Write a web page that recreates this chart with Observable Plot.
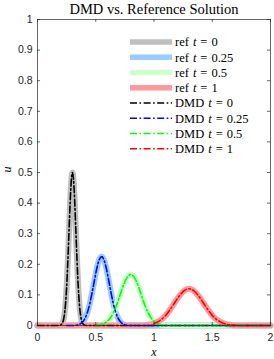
<!DOCTYPE html>
<html><head><meta charset="utf-8">
<script src="https://cdn.jsdelivr.net/npm/d3@7"></script>
<script src="https://cdn.jsdelivr.net/npm/@observablehq/plot@0.6"></script>
<style>
html,body{margin:0;padding:0;background:#fff;}
</style>
</head><body><div id="chart"></div>
<script>
// ---- data ----
const seriesNames = ["t0", "t025", "t05", "t1"];
const timeLabels = ["0", "0.25", "0.5", "1"];
const dmdStart = [0, 0.25, 0.5, 1.0];

const x0 = [0, 0.18, 0.20, 0.21, 0.22, 0.23, 0.24, 0.25, 0.26, 0.27, 0.28, 0.29, 0.30, 0.31, 0.32, 0.33, 0.34, 0.35, 0.36, 0.37, 0.38, 0.39, 0.40, 0.42, 2];
const u0 = [0, 0, 0.002, 0.0056, 0.014, 0.033, 0.068, 0.125, 0.206, 0.303, 0.400, 0.473, 0.5, 0.473, 0.400, 0.303, 0.206, 0.125, 0.068, 0.033, 0.014, 0.0056, 0.002, 0, 0];

const x025 = [0, 0.25, 0.31, 0.35, 0.37, 0.39, 0.41, 0.43, 0.45, 0.47, 0.49, 0.51, 0.53, 0.55, 0.57, 0.59, 0.61, 0.63, 0.65, 0.67, 0.69, 0.71, 0.73, 0.75, 0.79, 2];
const u025 = [0, 0, 0, 0.0025, 0.0059, 0.0127, 0.025, 0.045, 0.073, 0.110, 0.150, 0.188, 0.215, 0.225, 0.215, 0.188, 0.150, 0.110, 0.073, 0.045, 0.025, 0.0127, 0.0059, 0.0025, 0, 0];

const x05 = [0, 0.50, 0.53, 0.56, 0.59, 0.62, 0.65, 0.68, 0.71, 0.74, 0.77, 0.80, 0.83, 0.86, 0.89, 0.92, 0.95, 0.98, 1.01, 1.04, 1.07, 1.12, 2];
const u05 = [0, 0, 0.0018, 0.0047, 0.011, 0.022, 0.041, 0.068, 0.101, 0.134, 0.158, 0.167, 0.158, 0.134, 0.101, 0.068, 0.041, 0.022, 0.011, 0.0047, 0.0018, 0, 0];

const x1 = [0, 0.88, 0.94, 0.98, 1.00, 1.02, 1.06, 1.10, 1.14, 1.18, 1.22, 1.26, 1.30, 1.34, 1.38, 1.42, 1.46, 1.50, 1.54, 1.58, 1.62, 1.66, 1.72, 2];
const u1 = [0, 0, 0.0019, 0.0045, 0.0067, 0.0098, 0.019, 0.033, 0.053, 0.076, 0.098, 0.114, 0.12, 0.114, 0.098, 0.076, 0.053, 0.033, 0.019, 0.0098, 0.0045, 0.0019, 0, 0];

const xTicks = [0, 0.5, 1, 1.5, 2];
const yTicks = [0, 0.1, 0.2, 0.3, 0.4, 0.5, 0.6, 0.7, 0.8, 0.9, 1];

// ---- styles ----
const refColors = ["#bfbfbf", "#99ccff", "#ccffcc", "#ff9999"];
const dmdColors = ["#000000", "#0000ff", "#00ff00", "#ff0000"];
const dash = "7,2.5,1.6,2.5";
const W = 274, H = 359, mL = 37, mR = 4, mT = 19, mB = 34;
const pw = W - mL - mR, ph = H - mT - mB;
const axisColor = "#262626";
const serif = "'Liberation Serif', 'DejaVu Serif', serif";
const sans = "'Liberation Sans', Arial, sans-serif";

const xs = [x0, x025, x05, x1], us = [u0, u025, u05, u1];
const rows = [];
seriesNames.forEach((s, i) => xs[i].forEach((x, j) => rows.push({s, i, x, u: us[i][j]})));

const marks = [];
seriesNames.forEach((s, i) => {
  marks.push(Plot.line(rows.filter(r => r.s === s), {x: "x", y: "u", stroke: refColors[i], strokeWidth: 6, curve: "monotone-x", strokeLinejoin: "round"}));
});
seriesNames.forEach((s, i) => {
  marks.push(Plot.line(rows.filter(r => r.s === s && r.x >= dmdStart[i]), {x: "x", y: "u", stroke: dmdColors[i], strokeWidth: 1.6, strokeDasharray: dash, curve: "monotone-x"}));
});

const chart = Plot.plot({
  width: W, height: H,
  marginLeft: mL, marginRight: mR, marginTop: mT, marginBottom: mB,
  style: {background: "#fff", overflow: "visible"},
  x: {domain: [0, 2]},
  y: {domain: [0, 1]},
  marks: [
    ...marks,
    Plot.frame({stroke: axisColor, strokeWidth: 0.7}),
    Plot.tickY(yTicks, {y: d => d, insetRight: pw - 3, stroke: axisColor, strokeWidth: 0.7}),
    Plot.tickY(yTicks, {y: d => d, insetLeft: pw - 3, stroke: axisColor, strokeWidth: 0.7}),
    Plot.tickX(xTicks, {x: d => d, insetTop: ph - 3, stroke: axisColor, strokeWidth: 0.7}),
    Plot.tickX(xTicks, {x: d => d, insetBottom: ph - 3, stroke: axisColor, strokeWidth: 0.7}),
    Plot.axisY({ticks: yTicks, tickSize: 0, tickPadding: 5, tickFormat: d => String(d), fontSize: 10.5, fontFamily: sans, fill: axisColor, label: null}),
    Plot.axisX({ticks: xTicks, tickSize: 0, tickPadding: 8, tickFormat: d => String(d), fontSize: 10.5, fontFamily: sans, fill: axisColor, label: null}),
    Plot.text(["DMD vs. Reference Solution"], {frameAnchor: "top", lineAnchor: "middle", dy: -10, fontSize: 14.5, fontFamily: serif, fill: "#000"}),
    Plot.text(["x"], {frameAnchor: "bottom", lineAnchor: "middle", dy: 27, fontSize: 12, fontFamily: serif, fontStyle: "italic", fill: "#000"}),
    Plot.text(["u"], {frameAnchor: "left", lineAnchor: "middle", dx: -30, rotate: -90, fontSize: 12, fontFamily: serif, fontStyle: "italic", fill: "#000"})
  ]
});
document.getElementById("chart").appendChild(chart);

// ---- legend (inside the plot, top right, no box) ----
const svg = d3.select(chart);
const lg = svg.append("g").attr("font-family", serif).attr("font-size", 12.5).attr("text-anchor", "start");
const entries = [];
seriesNames.forEach((s, i) => entries.push({kind: "ref", i}));
seriesNames.forEach((s, i) => entries.push({kind: "DMD", i}));
entries.forEach((e, k) => {
  const y = 42 + k * 15.25;
  const ln = lg.append("line").attr("x1", 130).attr("x2", 172).attr("y1", y).attr("y2", y);
  if (e.kind === "ref") ln.attr("stroke", refColors[e.i]).attr("stroke-width", 5.5);
  else ln.attr("stroke", dmdColors[e.i]).attr("stroke-width", 1.6).attr("stroke-dasharray", dash);
  const t = lg.append("text").attr("x", 175).attr("y", y).attr("dy", "0.35em").attr("fill", "#000");
  t.append("tspan").text(e.kind);
  t.append("tspan").attr("dx", 4).attr("font-style", "italic").text("t");
  t.append("tspan").attr("dx", 4).text("=");
  t.append("tspan").attr("dx", 4).text(timeLabels[e.i]);
});
</script>
</body></html>
